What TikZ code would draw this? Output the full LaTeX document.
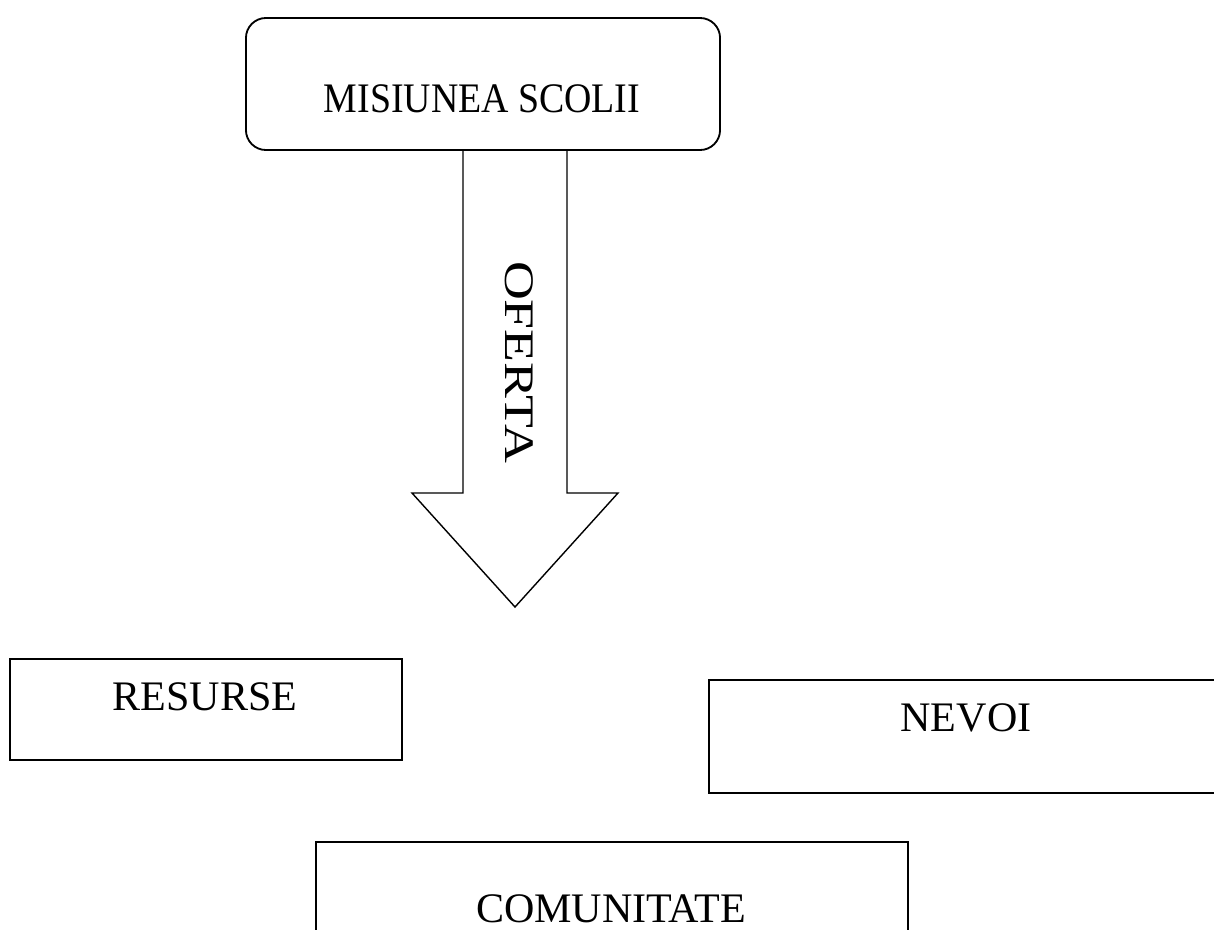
\documentclass[tikz,border=0pt]{standalone}
\usepackage{fontspec}
\setmainfont{Liberation Serif}
\usetikzlibrary{calc,positioning}

\begin{document}
\begin{tikzpicture}[
         x=0.025cm,y=-0.025cm,
         box/.style={draw,line width=1.3pt,inner sep=0pt},
         word/.style={font=\fontsize{29.9}{36}\selectfont,inner sep=0pt,text depth=0pt,anchor=base},
         tip/.style={draw,line width=1pt,line join=miter}
      ]

	      \useasboundingbox (0,0) rectangle (1214,929);
	      \clip (0,0) rectangle (1214,929);

	      % top box
	      \node[box,rounded corners=0.5cm,minimum width=11.85cm,minimum height=3.3cm] (misiune) at (483,84) {};
	      \node[word] (misiunetext) at (482,112) {\scalebox{0.9}[1]{MISIUNEA SCOLII}};

	      % big arrow
	      \draw[tip] (463,150) -- (463,493) -- (412,493) -- (515,607) -- (618,493) -- (567,493) -- (567,150);
	      \node[word,rotate=-90] (oferta) at (505,362) {\scalebox{1.28}[1]{OFERTA}};

	      \node[box,minimum width=9.8cm,minimum height=2.525cm] (resurse) at (206,709.5) {};
	      \node[word] (resursetext) at (205,710) {RESURSE};

	      \node[box,minimum width=13.025cm,minimum height=2.825cm] (nevoi) at (969.5,736.5) {};
	      \node[word] (nevoitext) at (966,731) {NEVOI};

	      \node[box,minimum width=14.8cm,minimum height=2.7cm] (comunitate) at (612,896) {};
	      \node[word] (comunitatetext) at (611,922) {COMUNITATE};

\end{tikzpicture}
\end{document}
